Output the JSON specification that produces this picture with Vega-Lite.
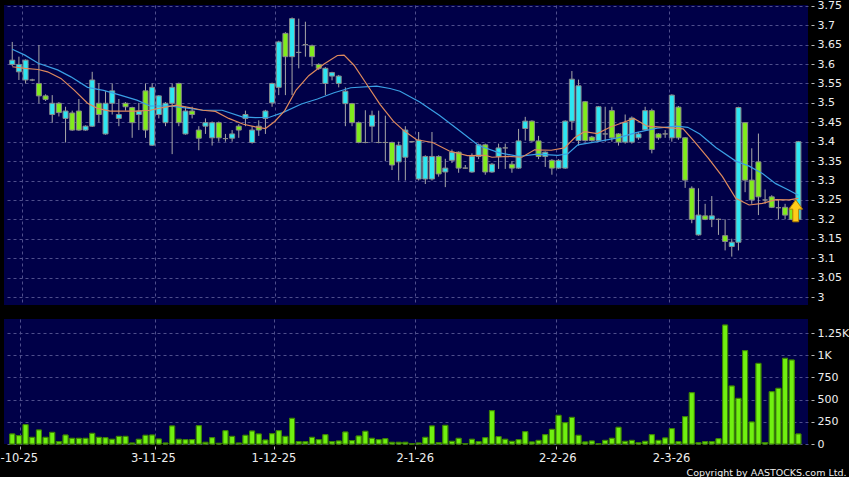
{
"$schema": "https://vega.github.io/schema/vega-lite/v6.json",
"background": "#000000",
"padding": {"left": -15, "top": -1, "right": 0, "bottom": 0},
"bounds": "flush",
"spacing": 14,
"config": {
  "view": {"fill": "#000048", "stroke": null},
  "axis": {"domain": false, "gridColor": "#4f4f8c", "gridDash": [3, 3], "gridWidth": 1, "tickColor": "#b8b8b8", "labelColor": "#eeeeee", "labelFont": "DejaVu Sans", "titleFont": "DejaVu Sans", "labelOverlap": false}
},
"datasets": {
  "candles": [
{"i":0,"o":3.599,"h":3.657,"l":3.595,"c":3.610,"v":113},
{"i":1,"o":3.580,"h":3.619,"l":3.559,"c":3.599,"v":94},
{"i":2,"o":3.559,"h":3.612,"l":3.550,"c":3.610,"v":218},
{"i":3,"o":3.559,"h":3.562,"l":3.556,"c":3.559,"v":75},
{"i":4,"o":3.550,"h":3.649,"l":3.499,"c":3.518,"v":158},
{"i":5,"o":3.518,"h":3.522,"l":3.505,"c":3.509,"v":75},
{"i":6,"o":3.470,"h":3.520,"l":3.449,"c":3.499,"v":131},
{"i":7,"o":3.499,"h":3.502,"l":3.465,"c":3.475,"v":26},
{"i":8,"o":3.460,"h":3.490,"l":3.398,"c":3.479,"v":101},
{"i":9,"o":3.474,"h":3.480,"l":3.428,"c":3.430,"v":64},
{"i":10,"o":3.479,"h":3.510,"l":3.428,"c":3.430,"v":64},
{"i":11,"o":3.430,"h":3.442,"l":3.428,"c":3.440,"v":64},
{"i":12,"o":3.440,"h":3.580,"l":3.438,"c":3.559,"v":120},
{"i":13,"o":3.499,"h":3.550,"l":3.450,"c":3.470,"v":75},
{"i":14,"o":3.420,"h":3.530,"l":3.418,"c":3.499,"v":71},
{"i":15,"o":3.499,"h":3.550,"l":3.470,"c":3.531,"v":53},
{"i":16,"o":3.460,"h":3.510,"l":3.440,"c":3.470,"v":86},
{"i":17,"o":3.499,"h":3.502,"l":3.480,"c":3.490,"v":86},
{"i":18,"o":3.488,"h":3.490,"l":3.410,"c":3.449,"v":11},
{"i":19,"o":3.470,"h":3.500,"l":3.430,"c":3.479,"v":53},
{"i":20,"o":3.531,"h":3.550,"l":3.410,"c":3.430,"v":98},
{"i":21,"o":3.391,"h":3.550,"l":3.389,"c":3.540,"v":101},
{"i":22,"o":3.470,"h":3.520,"l":3.460,"c":3.518,"v":56},
{"i":23,"o":3.449,"h":3.502,"l":3.440,"c":3.499,"v":11},
{"i":24,"o":3.499,"h":3.550,"l":3.368,"c":3.540,"v":203},
{"i":25,"o":3.550,"h":3.552,"l":3.440,"c":3.449,"v":53},
{"i":26,"o":3.420,"h":3.490,"l":3.418,"c":3.479,"v":49},
{"i":27,"o":3.479,"h":3.490,"l":3.460,"c":3.470,"v":49},
{"i":28,"o":3.430,"h":3.440,"l":3.378,"c":3.409,"v":206},
{"i":29,"o":3.440,"h":3.460,"l":3.420,"c":3.449,"v":19},
{"i":30,"o":3.410,"h":3.452,"l":3.390,"c":3.449,"v":71},
{"i":31,"o":3.449,"h":3.452,"l":3.400,"c":3.410,"v":8},
{"i":32,"o":3.408,"h":3.420,"l":3.400,"c":3.408,"v":150},
{"i":33,"o":3.409,"h":3.430,"l":3.400,"c":3.420,"v":86},
{"i":34,"o":3.440,"h":3.445,"l":3.410,"c":3.430,"v":11},
{"i":35,"o":3.460,"h":3.480,"l":3.440,"c":3.470,"v":98},
{"i":36,"o":3.398,"h":3.440,"l":3.395,"c":3.430,"v":146},
{"i":37,"o":3.440,"h":3.455,"l":3.415,"c":3.430,"v":113},
{"i":38,"o":3.460,"h":3.482,"l":3.420,"c":3.479,"v":45},
{"i":39,"o":3.500,"h":3.552,"l":3.490,"c":3.550,"v":116},
{"i":40,"o":3.540,"h":3.660,"l":3.520,"c":3.657,"v":150},
{"i":41,"o":3.679,"h":3.682,"l":3.520,"c":3.619,"v":86},
{"i":42,"o":3.619,"h":3.720,"l":3.520,"c":3.717,"v":289},
{"i":43,"o":3.630,"h":3.717,"l":3.589,"c":3.630,"v":26},
{"i":44,"o":3.650,"h":3.709,"l":3.619,"c":3.650,"v":26},
{"i":45,"o":3.647,"h":3.650,"l":3.594,"c":3.619,"v":75},
{"i":46,"o":3.599,"h":3.602,"l":3.585,"c":3.589,"v":49},
{"i":47,"o":3.550,"h":3.592,"l":3.520,"c":3.589,"v":105},
{"i":48,"o":3.569,"h":3.580,"l":3.558,"c":3.578,"v":26},
{"i":49,"o":3.550,"h":3.572,"l":3.540,"c":3.569,"v":34},
{"i":50,"o":3.498,"h":3.540,"l":3.440,"c":3.530,"v":135},
{"i":51,"o":3.498,"h":3.500,"l":3.440,"c":3.449,"v":38},
{"i":52,"o":3.449,"h":3.452,"l":3.396,"c":3.398,"v":90},
{"i":53,"o":3.398,"h":3.481,"l":3.396,"c":3.398,"v":143},
{"i":54,"o":3.440,"h":3.480,"l":3.398,"c":3.468,"v":64},
{"i":55,"o":3.398,"h":3.480,"l":3.396,"c":3.398,"v":49},
{"i":56,"o":3.398,"h":3.467,"l":3.350,"c":3.398,"v":60},
{"i":57,"o":3.398,"h":3.400,"l":3.327,"c":3.340,"v":19},
{"i":58,"o":3.348,"h":3.400,"l":3.300,"c":3.391,"v":19},
{"i":59,"o":3.360,"h":3.440,"l":3.300,"c":3.430,"v":19},
{"i":60,"o":3.400,"h":3.402,"l":3.398,"c":3.400,"v":2},
{"i":61,"o":3.304,"h":3.425,"l":3.300,"c":3.404,"v":11},
{"i":62,"o":3.304,"h":3.365,"l":3.291,"c":3.362,"v":75},
{"i":63,"o":3.304,"h":3.425,"l":3.300,"c":3.362,"v":203},
{"i":64,"o":3.362,"h":3.365,"l":3.310,"c":3.317,"v":15},
{"i":65,"o":3.322,"h":3.356,"l":3.283,"c":3.332,"v":210},
{"i":66,"o":3.352,"h":3.380,"l":3.345,"c":3.373,"v":30},
{"i":67,"o":3.373,"h":3.375,"l":3.320,"c":3.332,"v":64},
{"i":68,"o":3.332,"h":3.340,"l":3.330,"c":3.332,"v":4},
{"i":69,"o":3.322,"h":3.370,"l":3.320,"c":3.362,"v":53},
{"i":70,"o":3.362,"h":3.395,"l":3.355,"c":3.392,"v":26},
{"i":71,"o":3.392,"h":3.395,"l":3.315,"c":3.322,"v":71},
{"i":72,"o":3.322,"h":3.345,"l":3.320,"c":3.342,"v":375},
{"i":73,"o":3.362,"h":3.395,"l":3.330,"c":3.384,"v":83},
{"i":74,"o":3.384,"h":3.395,"l":3.330,"c":3.384,"v":53},
{"i":75,"o":3.342,"h":3.350,"l":3.320,"c":3.332,"v":30},
{"i":76,"o":3.332,"h":3.433,"l":3.330,"c":3.402,"v":49},
{"i":77,"o":3.434,"h":3.464,"l":3.403,"c":3.453,"v":139},
{"i":78,"o":3.453,"h":3.455,"l":3.400,"c":3.402,"v":23},
{"i":79,"o":3.402,"h":3.415,"l":3.355,"c":3.362,"v":41},
{"i":80,"o":3.362,"h":3.375,"l":3.335,"c":3.373,"v":105},
{"i":81,"o":3.352,"h":3.355,"l":3.315,"c":3.332,"v":165},
{"i":82,"o":3.332,"h":3.355,"l":3.330,"c":3.352,"v":323},
{"i":83,"o":3.332,"h":3.455,"l":3.330,"c":3.453,"v":240},
{"i":84,"o":3.453,"h":3.582,"l":3.430,"c":3.561,"v":300},
{"i":85,"o":3.403,"h":3.560,"l":3.390,"c":3.544,"v":98},
{"i":86,"o":3.503,"h":3.505,"l":3.400,"c":3.403,"v":23},
{"i":87,"o":3.412,"h":3.415,"l":3.400,"c":3.403,"v":34},
{"i":88,"o":3.403,"h":3.492,"l":3.400,"c":3.490,"v":4},
{"i":89,"o":3.420,"h":3.490,"l":3.400,"c":3.420,"v":41},
{"i":90,"o":3.480,"h":3.490,"l":3.400,"c":3.410,"v":64},
{"i":91,"o":3.420,"h":3.422,"l":3.390,"c":3.399,"v":188},
{"i":92,"o":3.399,"h":3.470,"l":3.395,"c":3.450,"v":30},
{"i":93,"o":3.399,"h":3.465,"l":3.395,"c":3.461,"v":41},
{"i":94,"o":3.410,"h":3.425,"l":3.405,"c":3.420,"v":15},
{"i":95,"o":3.431,"h":3.490,"l":3.428,"c":3.480,"v":30},
{"i":96,"o":3.480,"h":3.485,"l":3.370,"c":3.380,"v":105},
{"i":97,"o":3.420,"h":3.422,"l":3.405,"c":3.410,"v":41},
{"i":98,"o":3.420,"h":3.430,"l":3.410,"c":3.420,"v":68},
{"i":99,"o":3.410,"h":3.522,"l":3.400,"c":3.520,"v":173},
{"i":100,"o":3.489,"h":3.492,"l":3.405,"c":3.410,"v":26},
{"i":101,"o":3.410,"h":3.412,"l":3.281,"c":3.301,"v":308},
{"i":102,"o":3.280,"h":3.285,"l":3.190,"c":3.200,"v":578},
{"i":103,"o":3.160,"h":3.280,"l":3.158,"c":3.211,"v":15},
{"i":104,"o":3.209,"h":3.240,"l":3.198,"c":3.200,"v":26},
{"i":105,"o":3.200,"h":3.260,"l":3.180,"c":3.209,"v":26},
{"i":106,"o":3.200,"h":3.202,"l":3.160,"c":3.200,"v":60},
{"i":107,"o":3.158,"h":3.200,"l":3.120,"c":3.143,"v":1340},
{"i":108,"o":3.130,"h":3.150,"l":3.104,"c":3.141,"v":653},
{"i":109,"o":3.141,"h":3.490,"l":3.120,"c":3.488,"v":514},
{"i":110,"o":3.449,"h":3.450,"l":3.270,"c":3.301,"v":1051},
{"i":111,"o":3.301,"h":3.383,"l":3.240,"c":3.250,"v":248},
{"i":112,"o":3.348,"h":3.421,"l":3.211,"c":3.258,"v":908},
{"i":113,"o":3.250,"h":3.277,"l":3.240,"c":3.250,"v":15},
{"i":114,"o":3.258,"h":3.262,"l":3.229,"c":3.231,"v":589},
{"i":115,"o":3.230,"h":3.250,"l":3.200,"c":3.230,"v":627},
{"i":116,"o":3.231,"h":3.240,"l":3.200,"c":3.211,"v":965},
{"i":117,"o":3.229,"h":3.232,"l":3.198,"c":3.200,"v":946},
{"i":118,"o":3.200,"h":3.402,"l":3.198,"c":3.400,"v":113}
  ],
  "ma": [
{"s":"MA20","i":0,"p":3.638},{"s":"MA20","i":1.9,"p":3.623},{"s":"MA20","i":3.9,"p":3.602},{"s":"MA20","i":6.8,"p":3.585},{"s":"MA20","i":8.8,"p":3.567},{"s":"MA20","i":11.3,"p":3.540},{"s":"MA20","i":13.7,"p":3.532},{"s":"MA20","i":16.2,"p":3.520},{"s":"MA20","i":18.7,"p":3.507},{"s":"MA20","i":20.7,"p":3.492},{"s":"MA20","i":23.6,"p":3.492},{"s":"MA20","i":26.6,"p":3.486},{"s":"MA20","i":28.6,"p":3.481},{"s":"MA20","i":31.5,"p":3.481},{"s":"MA20","i":34.5,"p":3.464},{"s":"MA20","i":36.5,"p":3.462},{"s":"MA20","i":38.6,"p":3.463},{"s":"MA20","i":40.6,"p":3.475},{"s":"MA20","i":43.4,"p":3.497},{"s":"MA20","i":45.8,"p":3.510},{"s":"MA20","i":48.3,"p":3.526},{"s":"MA20","i":50.8,"p":3.539},{"s":"MA20","i":54.7,"p":3.543},{"s":"MA20","i":56.7,"p":3.537},{"s":"MA20","i":58.2,"p":3.530},{"s":"MA20","i":61.1,"p":3.503},{"s":"MA20","i":64.1,"p":3.468},{"s":"MA20","i":67.1,"p":3.429},{"s":"MA20","i":70,"p":3.390},{"s":"MA20","i":73,"p":3.372},{"s":"MA20","i":76,"p":3.362},{"s":"MA20","i":78.9,"p":3.368},{"s":"MA20","i":81.9,"p":3.365},{"s":"MA20","i":83.4,"p":3.369},{"s":"MA20","i":84.9,"p":3.392},{"s":"MA20","i":87.8,"p":3.400},{"s":"MA20","i":90.9,"p":3.410},{"s":"MA20","i":93.8,"p":3.424},{"s":"MA20","i":96.8,"p":3.435},{"s":"MA20","i":99.7,"p":3.440},{"s":"MA20","i":101.4,"p":3.437},{"s":"MA20","i":103.2,"p":3.420},{"s":"MA20","i":105.6,"p":3.385},{"s":"MA20","i":108.6,"p":3.350},{"s":"MA20","i":110.6,"p":3.337},{"s":"MA20","i":112.6,"p":3.318},{"s":"MA20","i":114.6,"p":3.292},{"s":"MA20","i":116.6,"p":3.275},{"s":"MA20","i":118,"p":3.262},
{"s":"MA10","i":0,"p":3.593},{"s":"MA10","i":1.9,"p":3.589},{"s":"MA10","i":3.9,"p":3.586},{"s":"MA10","i":5.3,"p":3.580},{"s":"MA10","i":7.3,"p":3.563},{"s":"MA10","i":9.3,"p":3.533},{"s":"MA10","i":11.3,"p":3.499},{"s":"MA10","i":12.8,"p":3.486},{"s":"MA10","i":14.7,"p":3.479},{"s":"MA10","i":18.7,"p":3.479},{"s":"MA10","i":20.7,"p":3.481},{"s":"MA10","i":22.6,"p":3.488},{"s":"MA10","i":24.6,"p":3.494},{"s":"MA10","i":26.6,"p":3.488},{"s":"MA10","i":28.6,"p":3.481},{"s":"MA10","i":30.5,"p":3.478},{"s":"MA10","i":32.5,"p":3.460},{"s":"MA10","i":34.7,"p":3.445},{"s":"MA10","i":36.5,"p":3.438},{"s":"MA10","i":38.0,"p":3.434},{"s":"MA10","i":39.4,"p":3.452},{"s":"MA10","i":40.9,"p":3.480},{"s":"MA10","i":42.6,"p":3.533},{"s":"MA10","i":44.5,"p":3.570},{"s":"MA10","i":46.8,"p":3.600},{"s":"MA10","i":48.8,"p":3.622},{"s":"MA10","i":49.8,"p":3.623},{"s":"MA10","i":51.3,"p":3.597},{"s":"MA10","i":53.2,"p":3.548},{"s":"MA10","i":55.2,"p":3.496},{"s":"MA10","i":57.2,"p":3.453},{"s":"MA10","i":58.8,"p":3.428},{"s":"MA10","i":60.7,"p":3.405},{"s":"MA10","i":63.1,"p":3.398},{"s":"MA10","i":65.6,"p":3.376},{"s":"MA10","i":68.3,"p":3.364},{"s":"MA10","i":71,"p":3.365},{"s":"MA10","i":72,"p":3.360},{"s":"MA10","i":74.5,"p":3.362},{"s":"MA10","i":76.5,"p":3.360},{"s":"MA10","i":78.4,"p":3.379},{"s":"MA10","i":80.9,"p":3.378},{"s":"MA10","i":82.9,"p":3.384},{"s":"MA10","i":84.4,"p":3.410},{"s":"MA10","i":85.9,"p":3.426},{"s":"MA10","i":87.8,"p":3.421},{"s":"MA10","i":89.8,"p":3.438},{"s":"MA10","i":91.8,"p":3.450},{"s":"MA10","i":93.3,"p":3.460},{"s":"MA10","i":95.3,"p":3.440},{"s":"MA10","i":97.8,"p":3.437},{"s":"MA10","i":100.7,"p":3.433},{"s":"MA10","i":102.4,"p":3.400},{"s":"MA10","i":104.5,"p":3.357},{"s":"MA10","i":106.6,"p":3.310},{"s":"MA10","i":108.6,"p":3.254},{"s":"MA10","i":110.6,"p":3.237},{"s":"MA10","i":112.6,"p":3.241},{"s":"MA10","i":114.6,"p":3.251},{"s":"MA10","i":116.6,"p":3.250},{"s":"MA10","i":118,"p":3.254}
  ],
  "marker": [{"i": 117.6, "p": 3.222}]
},
"vconcat": [
  {
    "width": 804, "height": 300,
    "layer": [
      {
        "data": {"name": "candles"},
        "mark": {"type": "rule", "color": "#a8a8a8", "strokeWidth": 1},
        "encoding": {
          "x": {"field": "i", "type": "quantitative", "scale": {"domain": [-0.489, 118.69], "nice": false, "zero": false},
                "axis": {"values": [1.44, 21.45, 39.39, 60.43, 81.63, 98.53], "labels": false, "ticks": false, "grid": true, "title": null}},
          "y": {"field": "l", "type": "quantitative", "scale": {"domain": [2.9794, 3.7521], "nice": false, "zero": false},
                "axis": {"orient": "right", "values": [3, 3.05, 3.1, 3.15, 3.2, 3.25, 3.3, 3.35, 3.4, 3.45, 3.5, 3.55, 3.6, 3.65, 3.7, 3.75], "format": "~g", "labelOverlap": false, "offset": 3, "tickSize": 3, "labelPadding": 3, "labelFontSize": 11, "grid": true, "title": null}},
          "y2": {"field": "h"}
        }
      },
      {
        "data": {"name": "candles"},
        "mark": {"type": "bar", "width": 5, "stroke": "#8a8a8a", "strokeWidth": 1},
        "encoding": {
          "x": {"field": "i", "type": "quantitative",
                "axis": {"values": [1.44, 21.45, 39.39, 60.43, 81.63, 98.53], "labels": false, "ticks": false, "grid": true, "title": null}},
          "y": {"field": "o", "type": "quantitative",
                "axis": {"orient": "right", "values": [3, 3.05, 3.1, 3.15, 3.2, 3.25, 3.3, 3.35, 3.4, 3.45, 3.5, 3.55, 3.6, 3.65, 3.7, 3.75], "format": "~g", "labelOverlap": false, "offset": 3, "tickSize": 3, "labelPadding": 3, "labelFontSize": 11, "grid": true, "title": null}},
          "y2": {"field": "c"},
          "fill": {"condition": {"test": "datum.c > datum.o", "value": "#2de6f2"}, "value": "#80ec1c"}
        }
      },
      {
        "data": {"name": "ma"},
        "mark": {"type": "line", "strokeWidth": 1.2},
        "encoding": {
          "x": {"field": "i", "type": "quantitative",
                "axis": {"values": [1.44, 21.45, 39.39, 60.43, 81.63, 98.53], "labels": false, "ticks": false, "grid": true, "title": null}},
          "y": {"field": "p", "type": "quantitative",
                "axis": {"orient": "right", "values": [3, 3.05, 3.1, 3.15, 3.2, 3.25, 3.3, 3.35, 3.4, 3.45, 3.5, 3.55, 3.6, 3.65, 3.7, 3.75], "format": "~g", "labelOverlap": false, "offset": 3, "tickSize": 3, "labelPadding": 3, "labelFontSize": 11, "grid": true, "title": null}},
          "color": {"field": "s", "type": "nominal", "scale": {"domain": ["MA10", "MA20"], "range": ["#df8a5e", "#3a9fe4"]}, "legend": null}
        }
      },
      {
        "data": {"name": "marker"},
        "mark": {"type": "point", "shape": "M0,-1L0.62,-0.15L0.27,-0.15L0.27,1L-0.27,1L-0.27,-0.15L-0.62,-0.15Z", "size": 484, "filled": true, "fill": "#ffcc1a", "stroke": "#b07a00", "strokeWidth": 1, "opacity": 1},
        "encoding": {
          "x": {"field": "i", "type": "quantitative",
                "axis": {"values": [1.44, 21.45, 39.39, 60.43, 81.63, 98.53], "labels": false, "ticks": false, "grid": true, "title": null}},
          "y": {"field": "p", "type": "quantitative",
                "axis": {"orient": "right", "values": [3, 3.05, 3.1, 3.15, 3.2, 3.25, 3.3, 3.35, 3.4, 3.45, 3.5, 3.55, 3.6, 3.65, 3.7, 3.75], "format": "~g", "labelOverlap": false, "offset": 3, "tickSize": 3, "labelPadding": 3, "labelFontSize": 11, "grid": true, "title": null}}
        }
      }
    ]
  },
  {
    "width": 804, "height": 125,
    "data": {"name": "candles"},
    "resolve": {"axis": {"x": "independent"}},
    "layer": [
      {
        "mark": {"type": "bar", "width": 5, "fill": "#70f010", "stroke": "#3a7d05", "strokeWidth": 1},
        "encoding": {
          "x": {"field": "i", "type": "quantitative", "scale": {"domain": [-0.489, 118.69], "nice": false, "zero": false},
                "axis": {"orient": "bottom", "values": [1.2, 21.4, 39.35, 60.43, 81.63, 98.6], "labels": false, "grid": true, "ticks": true, "offset": 2, "tickSize": 3, "title": null}},
          "y": {"field": "v", "type": "quantitative", "scale": {"domain": [0, 1408], "nice": false, "zero": true},
                "axis": {"orient": "right", "values": [0, 250, 500, 750, 1000, 1250],
                         "labelExpr": "datum.value >= 1000 ? format(datum.value / 1000, '~g') + 'K' : format(datum.value, 'd')",
                         "offset": 3, "tickSize": 3, "labelPadding": 3, "labelFontSize": 11, "grid": true, "title": null}}
        }
      },
      {
        "mark": {"type": "bar", "width": 5, "fill": "#70f010", "stroke": "#3a7d05", "strokeWidth": 1},
        "encoding": {
          "x": {"field": "i", "type": "quantitative",
                "axis": {"orient": "bottom", "values": [-0.12, 21.1, 39.2, 60.4, 81.8, 98.9],
                         "labelExpr": "datum.value < 10 ? '31-10-25' : datum.value < 30 ? '3-11-25' : datum.value < 50 ? '1-12-25' : datum.value < 70 ? '2-1-26' : datum.value < 90 ? '2-2-26' : '2-3-26'",
                         "grid": false, "ticks": false, "offset": 2, "labelPadding": 6.5, "labelFontSize": 11.5,
                         "title": "Copyright by AASTOCKS.com Ltd.", "titleColor": "#eeeeee", "titleFontSize": 9.5, "titleFontWeight": "normal",
                         "titleAnchor": null, "titleAlign": "right", "titleBaseline": "alphabetic", "titleX": 842, "titleY": 29}},
          "y": {"field": "v", "type": "quantitative",
                "axis": {"orient": "right", "values": [0, 250, 500, 750, 1000, 1250],
                         "labelExpr": "datum.value >= 1000 ? format(datum.value / 1000, '~g') + 'K' : format(datum.value, 'd')",
                         "offset": 3, "tickSize": 3, "labelPadding": 3, "labelFontSize": 11, "grid": true, "title": null}}
        }
      }
    ]
  }
]
}
